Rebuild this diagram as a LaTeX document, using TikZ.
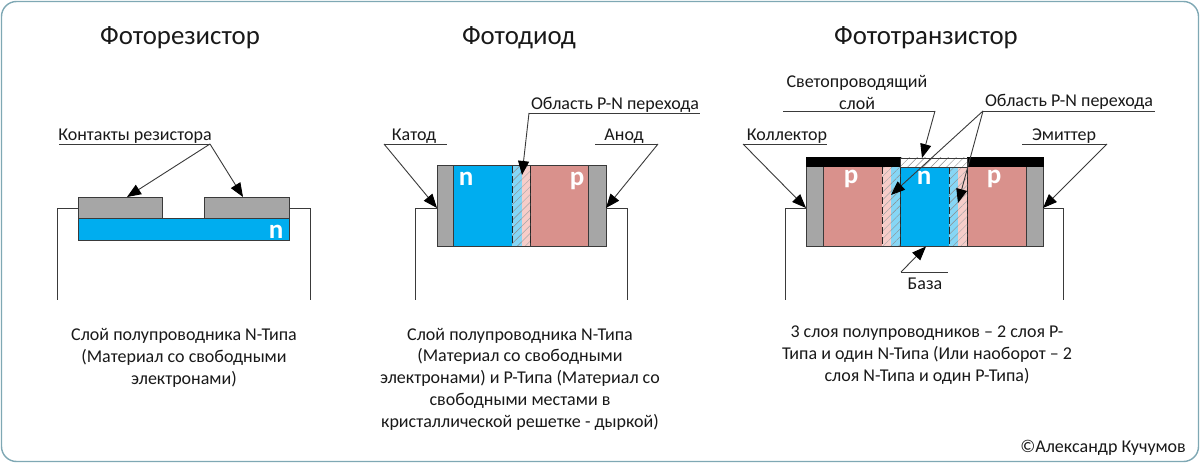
\documentclass[tikz,border=0pt]{standalone}
\usepackage{fontspec}
\setmainfont{Carlito}
\usetikzlibrary{arrows.meta,patterns.meta}
\definecolor{frameC}{HTML}{7FA8B4}
\definecolor{nC}{HTML}{00ADEF}
\definecolor{pC}{HTML}{D9918C}
\definecolor{grayC}{HTML}{A6A6A6}
\definecolor{nH}{HTML}{86D6F5}
\definecolor{pH}{HTML}{F6CDC9}
\definecolor{lineC}{HTML}{3A3A3A}
\tikzset{
  x=1pt,y=-1pt,
  blockbase/.style={draw=lineC,line width=1pt,inner sep=0pt,outer sep=0pt,anchor=north west},
  grayblk/.style={blockbase,fill=grayC},
  nblk/.style={blockbase,fill=nC},
  pblk/.style={blockbase,fill=pC},
  blackblk/.style={blockbase,draw=black,fill=black},
  hatchlines/.style={pattern={Lines[angle=45,distance=5.5pt,line width=.45pt]},pattern color=#1},
  nhatch/.style={inner sep=0pt,outer sep=0pt,anchor=north west,preaction={fill=nH},hatchlines=black!45},
  phatch/.style={inner sep=0pt,outer sep=0pt,anchor=north west,preaction={fill=pH},hatchlines=black!35},
  whatch/.style={draw=lineC,line width=.6pt,inner sep=0pt,outer sep=0pt,anchor=north west,preaction={fill=white},hatchlines=black!45},
  wire/.style={draw=lineC,line width=1pt},
  leader/.style={draw=lineC,line width=.9pt},
  arrowline/.style={leader,-{Triangle[length=14pt,width=11pt,color=black]}},
  edge/.style={draw=black!85,line width=1pt,dash pattern=on 7pt off 3pt},
  lbl/.style={font=\fontsize{18}{20}\selectfont,text=black!90,inner sep=0pt},
  ttl/.style={font=\fontsize{26.8}{30}\selectfont,text=black!90,inner sep=0pt},
  bodytxt/.style={font=\fontsize{18}{21.7}\selectfont,text=black!90,inner sep=0pt,align=center},
  typ/.style={font=\bfseries\fontsize{27}{30}\selectfont,text=white,inner sep=0pt},
}
\newcommand{\blk}[6]{%
  \pgfmathsetmacro{\wdd}{#5-#3}\pgfmathsetmacro{\htt}{#6-#4}%
  \node[#1,minimum width=\wdd pt,minimum height=\htt pt] (#2) at (#3,#4) {};}
\begin{document}
\begin{tikzpicture}
\useasboundingbox (0,0) rectangle (1200,468);
\fill[white] (0,0) rectangle (1200,468);
\draw[frameC,line width=1.4pt,rounded corners=15pt] (1.5,1.5) rectangle (1198.5,461.5);
% titles
\node[ttl] (t1) at (180,38) {Фоторезистор};
\node[ttl] (t2) at (519,38) {Фотодиод};
\node[ttl] (t3) at (926,38) {Фототранзистор};
% --- photoresistor
\blk{nblk}{rn}{78}{218}{289}{240}
\blk{grayblk}{rc1}{78}{197}{162}{218}
\blk{grayblk}{rc2}{204}{197}{289}{218}
\node[typ] (rnl) at (276,232) {n};
\coordinate (rwl) at (57,300); \coordinate (rwr) at (310,300);
\coordinate (rc1w) at (78,208); \coordinate (rc2w) at (289,208);
\draw[wire] (rc1w) -- (57,208) -- (rwl);
\draw[wire] (rc2w) -- (310,208) -- (rwr);
\node[lbl] (rl) at (135,136.5) {Контакты резистора};
\coordinate (rlA) at (59,144); \coordinate (rlB) at (210,144);
\coordinate (rt1) at (127,197); \coordinate (rt2) at (243,197);
\draw[leader] (rlA) -- (rlB);
\draw[arrowline] (rlB) -- (rt1);
\draw[arrowline] (rlB) -- (rt2);
\node[bodytxt] (rb) at (184,358) {Слой полупроводника N-Типа\\(Материал со свободными\\электронами)};
% --- photodiode
\blk{grayblk}{dg1}{437}{166}{453}{246}
\blk{nblk}{dn}{453}{166}{512}{246}
\blk{nhatch}{dhn}{512}{166}{521.5}{246}
\blk{phatch}{dhp}{521.5}{166}{530}{246}
\blk{pblk}{dp}{530}{166}{588.5}{246}
\blk{grayblk}{dg2}{588.5}{166}{606}{246}
\draw[lineC,line width=1pt] (512,166) -- (530,166) (512,246) -- (530,246);
\draw[edge] (dhn.north west) -- (dhn.south west);
\draw[edge] (dhp.north east) -- (dhp.south east);
\node[typ] (dnl) at (466,179) {n};
\node[typ] (dpl) at (577,181) {p};
\coordinate (dw1) at (437,208); \coordinate (dw2) at (606,208);
\coordinate (dwl) at (415,300); \coordinate (dwr) at (627,300);
\draw[wire] (dw1) -- (415,208) -- (dwl);
\draw[wire] (dw2) -- (627,208) -- (dwr);
\node[lbl] (dk) at (414,136.5) {Катод};
\coordinate (dkA) at (384,144); \coordinate (dkB) at (447,144);
\draw[leader] (dkA) -- (dkB);
\draw[arrowline] (dkA) -- (dw1);
\node[lbl] (da) at (624,136.5) {Анод};
\coordinate (daA) at (595,144); \coordinate (daB) at (658,144);
\draw[leader] (daA) -- (daB);
\draw[arrowline] (daB) -- (dw2);
\node[lbl] (dj) at (615,104.5) {Область P-N перехода};
\coordinate (djA) at (529,113); \coordinate (djB) at (700,113); \coordinate (djT) at (522,175);
\draw[leader] (djA) -- (djB);
\draw[arrowline] (djA) -- (djT);
\node[bodytxt] (db) at (520,379) {Слой полупроводника N-Типа\\(Материал со свободными\\электронами) и P-Типа (Материал со\\свободными местами в\\кристаллической решетке - дыркой)};
% --- phototransistor
\blk{grayblk}{tg1}{806}{167}{823}{246}
\blk{pblk}{tp1}{823}{167}{882}{246}
\blk{phatch}{th1}{882}{167}{890.5}{246}
\blk{nhatch}{th2}{890.5}{167}{900}{246}
\blk{nblk}{tn}{900}{167}{949}{246}
\blk{nhatch}{th3}{949}{167}{958}{246}
\blk{phatch}{th4}{958}{167}{967}{246}
\blk{pblk}{tp2}{967}{167}{1026}{246}
\blk{grayblk}{tg2}{1026}{167}{1043}{246}
\draw[lineC,line width=1pt] (882,246) -- (900,246) (949,246) -- (967,246);
\draw[edge] (th1.north west) -- (th1.south west);
\draw[edge] (th2.north east) -- (th2.south east);
\draw[edge] (th3.north west) -- (th3.south west);
\draw[edge] (th4.north east) -- (th4.south east);
\blk{blackblk}{tb1}{806}{158}{900}{167}
\blk{blackblk}{tb2}{967}{158}{1043}{167}
\blk{whatch}{tlay}{900}{158}{967}{167}
\node[typ] (tp1l) at (851,179) {p};
\node[typ] (tnl) at (924,178) {n};
\node[typ] (tp2l) at (994,179) {p};
\coordinate (tw1) at (806,208); \coordinate (tw2) at (1043,208);
\coordinate (twl) at (785,300); \coordinate (twr) at (1063,300);
\draw[wire] (tw1) -- (785,208) -- (twl);
\draw[wire] (tw2) -- (1063,208) -- (twr);
\node[lbl] (tk) at (787,136.5) {Коллектор};
\coordinate (tkA) at (743,144); \coordinate (tkB) at (827,144);
\draw[leader] (tkA) -- (tkB);
\draw[arrowline] (tkA) -- (tw1);
\node[lbl] (te) at (1064,136.5) {Эмиттер};
\coordinate (teA) at (1022,144); \coordinate (teB) at (1107,144);
\draw[leader] (teA) -- (teB);
\draw[arrowline] (teB) -- (tw2);
\node[lbl] (ts1) at (857,83) {Светопроводящий};
\node[lbl] (ts2) at (857,103) {слой};
\coordinate (tsA) at (783,111); \coordinate (tsB) at (935,111); \coordinate (tsT) at (922,158);
\draw[leader] (tsA) -- (tsB);
\draw[arrowline] (tsB) -- (tsT);
\node[lbl] (tj) at (1069,102) {Область P-N перехода};
\coordinate (tjA) at (983,111); \coordinate (tjB) at (1155,111);
\coordinate (tjT1) at (891,195); \coordinate (tjT2) at (958,203);
\draw[leader] (tjA) -- (tjB);
\draw[arrowline] (tjA) -- (tjT1);
\draw[arrowline] (tjA) -- (tjT2);
\node[lbl] (tbz) at (925,284) {База};
\coordinate (tzA) at (901,272); \coordinate (tzB) at (948,272); \coordinate (tzT) at (926,246.5);
\draw[leader] (tzA) -- (tzB);
\draw[arrowline] (tzA) -- (tzT);
\node[bodytxt] (tb) at (927,355) {3 слоя полупроводников – 2 слоя P-\\Типа и один N-Типа (Или наоборот – 2\\слоя N-Типа и один P-Типа)};
\node[lbl,anchor=east] (cr) at (1186,448) {©Александр Кучумов};
\end{tikzpicture}
\end{document}
